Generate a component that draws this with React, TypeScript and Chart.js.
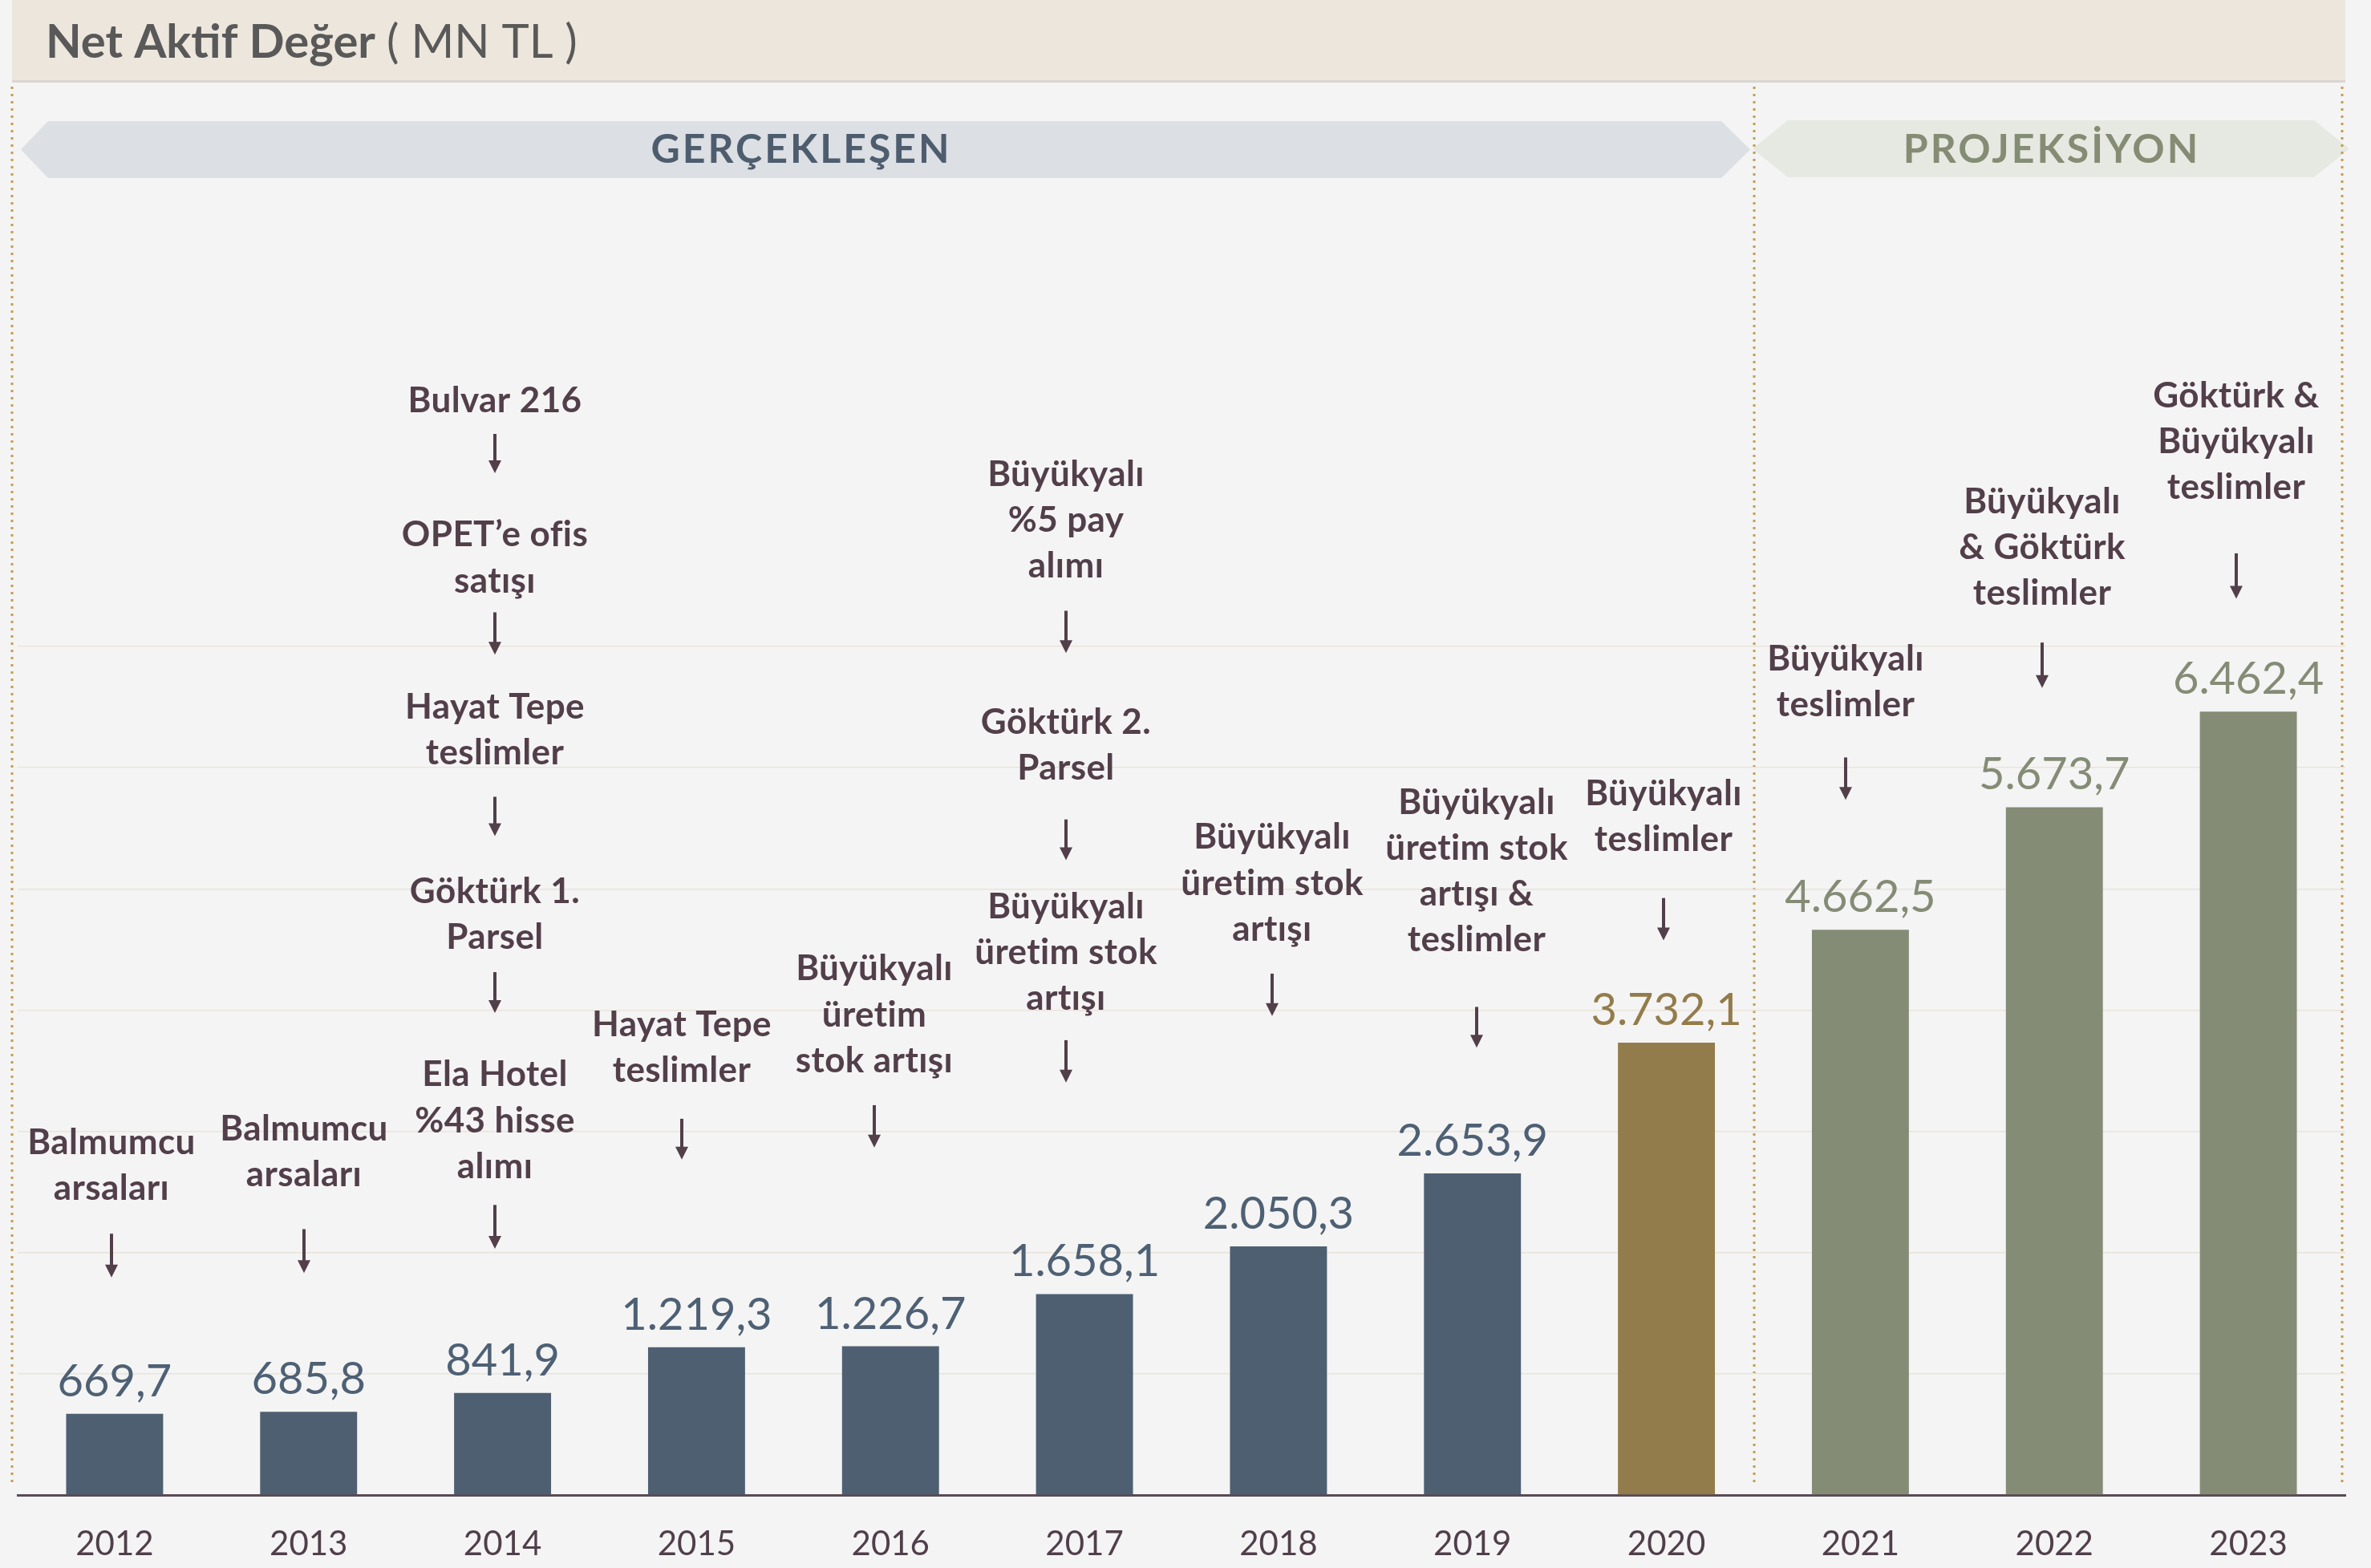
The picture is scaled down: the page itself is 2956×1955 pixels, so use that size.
import React, { useEffect, useRef } from "react";
import { Chart, registerables } from "chart.js";

Chart.register(...registerables);

// ---------------- DATA ----------------
const years = ["2012", "2013", "2014", "2015", "2016", "2017", "2018", "2019", "2020", "2021", "2022", "2023"];
const netAssetValues = [669.7, 685.8, 841.9, 1219.3, 1226.7, 1658.1, 2050.3, 2653.9, 3732.1, 4662.5, 5673.7, 6462.4];
// phase: 0 = realised, 1 = current year, 2 = projection
const phases = [0, 0, 0, 0, 0, 0, 0, 0, 1, 2, 2, 2];
const yTicksMax = 7000;
const yTickStep = 1000;

const titleMain = "Net Aktif Değer";
const titleUnit = "( MN TL )";
const bannerRealised = "GERÇEKLEŞEN";
const bannerProjection = "PROJEKSİYON";

// Milestone notes per year: groups of text lines, each followed by an arrow
const notes: string[][][] = [
  [["Balmumcu", "arsaları"]],
  [["Balmumcu", "arsaları"]],
  [["Bulvar 216"], ["OPET’e ofis", "satışı"], ["Hayat Tepe", "teslimler"], ["Göktürk 1.", "Parsel"], ["Ela Hotel", "%43 hisse", "alımı"]],
  [["Hayat Tepe", "teslimler"]],
  [["Büyükyalı", "üretim", "stok artışı"]],
  [["Büyükyalı", "%5 pay", "alımı"], ["Göktürk 2.", "Parsel"], ["Büyükyalı", "üretim stok", "artışı"]],
  [["Büyükyalı", "üretim stok", "artışı"]],
  [["Büyükyalı", "üretim stok", "artışı &", "teslimler"]],
  [["Büyükyalı", "teslimler"]],
  [["Büyükyalı", "teslimler"]],
  [["Büyükyalı", "& Göktürk", "teslimler"]],
  [["Göktürk &", "Büyükyalı", "teslimler"]],
];

// ---------------- LAYOUT (reference units, scaled by S) ----------------
const S = 1.885;
// per year: dx from bar centre, per group [firstLineCentreY, arrowTop, arrowBottom]
const noteLayout: { dx: number; groups: number[][] }[] = [
  { dx: -2, groups: [[756, 816, 845]] },
  { dx: -3, groups: [[747, 813, 842]] },
  { dx: -5, groups: [[265, 287, 313], [354, 405, 433], [468, 527, 553], [590, 643, 670], [711, 797, 826]] },
  { dx: -10, groups: [[678, 740, 767]] },
  { dx: -11, groups: [[641, 731, 759]] },
  { dx: -12, groups: [[314, 404, 432], [478, 542, 569], [600, 688, 716]] },
  { dx: -4, groups: [[554, 644, 672]] },
  { dx: 3, groups: [[531, 666, 693]] },
  { dx: -2, groups: [[525, 594, 622]] },
  { dx: -10, groups: [[436, 501, 529]] },
  { dx: -8, groups: [[332, 425, 455]] },
  { dx: -8, groups: [[262, 366, 396]] },
];

const FONT = "Lato, 'Open Sans', sans-serif";
const BAR_COLORS = ["#4e5f72", "#937c4b", "#858c76"];
const LABEL_COLORS = ["#4e6074", "#937c4b", "#858c76"];
const NOTE_COLOR = "#523f4a";

function formatTR(v: number): string {
  const fixed = v.toFixed(1);
  const [intPart, dec] = fixed.split(".");
  const withDots = intPart.replace(/\B(?=(\d{3})+(?!\d))/g, ".");
  return withDots + "," + dec;
}

function dottedV(ctx: CanvasRenderingContext2D, x: number, y0: number, y1: number) {
  ctx.save();
  ctx.strokeStyle = "#c49d4f";
  ctx.lineWidth = 3;
  ctx.setLineDash([3, 6]);
  ctx.beginPath();
  ctx.moveTo(x, y0);
  ctx.lineTo(x, y1);
  ctx.stroke();
  ctx.restore();
}

function hexBanner(
  ctx: CanvasRenderingContext2D,
  tipL: number,
  bodyL: number,
  bodyR: number,
  tipR: number,
  top: number,
  bottom: number,
  fill: string
) {
  const mid = (top + bottom) / 2;
  ctx.save();
  ctx.fillStyle = fill;
  ctx.beginPath();
  ctx.moveTo(tipL, mid);
  ctx.lineTo(bodyL, top);
  ctx.lineTo(bodyR, top);
  ctx.lineTo(tipR, mid);
  ctx.lineTo(bodyR, bottom);
  ctx.lineTo(bodyL, bottom);
  ctx.closePath();
  ctx.fill();
  ctx.restore();
}

const backgroundPlugin = {
  id: "bgDecor",
  beforeDraw(chart: any) {
    const ctx: CanvasRenderingContext2D = chart.ctx;
    const W = chart.width;
    const H = chart.height;
    ctx.save();
    ctx.fillStyle = "#f4f4f4";
    ctx.fillRect(0, 0, W, H);
    // title band
    ctx.fillStyle = "#ece6dc";
    ctx.fillRect(15, 0, 2909, 100);
    ctx.fillStyle = "#d9d5d1";
    ctx.fillRect(15, 100, 2909, 3);
    // title text
    ctx.textBaseline = "alphabetic";
    ctx.textAlign = "left";
    ctx.fillStyle = "#595959";
    ctx.font = `bold 58px ${FONT}`;
    ctx.fillText(titleMain, 57, 72);
    const w = ctx.measureText(titleMain + " ").width;
    ctx.font = `58px ${FONT}`;
    ctx.fillText(titleUnit, 57 + w, 72);
    ctx.restore();

    // banners
    hexBanner(ctx, 26, 60, 2146, 2182, 151, 222, "#dcdfe3");
    hexBanner(ctx, 2185, 2229, 2885, 2929, 150, 221, "#e6e9e2");
    ctx.save();
    ctx.textAlign = "center";
    ctx.textBaseline = "middle";
    ctx.font = `bold 50px ${FONT}`;
    (ctx as any).letterSpacing = "3px";
    ctx.fillStyle = "#4e5d6e";
    ctx.fillText(bannerRealised, 999, 187);
    ctx.fillStyle = "#858c74";
    ctx.fillText(bannerProjection, 2558, 187);
    ctx.restore();

    // dotted separators
    dottedV(ctx, 15, 108, 1852);
    dottedV(ctx, 2187, 108, 1852);
    dottedV(ctx, 2920, 108, 1852);
  },
  afterDraw(chart: any) {
    const ctx: CanvasRenderingContext2D = chart.ctx;
    const xs = chart.scales.x;
    const ys = chart.scales.y;
    ctx.save();
    // value labels
    ctx.textAlign = "center";
    ctx.textBaseline = "alphabetic";
    ctx.font = `56px ${FONT}`;
    netAssetValues.forEach((v, i) => {
      const x = xs.getPixelForValue(i);
      const y = ys.getPixelForValue(v);
      ctx.fillStyle = LABEL_COLORS[phases[i]];
      ctx.fillText(formatTR(v), x, y - 22);
    });
    // notes
    ctx.font = `bold 44px ${FONT}`;
    (ctx as any).letterSpacing = "0.4px";
    ctx.textBaseline = "middle";
    ctx.fillStyle = NOTE_COLOR;
    ctx.strokeStyle = NOTE_COLOR;
    notes.forEach((groups, i) => {
      const lay = noteLayout[i];
      const cx = Math.round(xs.getPixelForValue(i) + lay.dx * S);
      groups.forEach((lines, g) => {
        const [y0, a0, a1] = lay.groups[g];
        lines.forEach((ln, k) => {
          ctx.fillText(ln, cx, (y0 + k * 30.3) * S);
        });
        const top = a0 * S;
        const bot = a1 * S;
        ctx.lineWidth = 4;
        ctx.beginPath();
        ctx.moveTo(cx, top);
        ctx.lineTo(cx, bot - 12);
        ctx.stroke();
        ctx.beginPath();
        ctx.moveTo(cx - 8, bot - 16);
        ctx.lineTo(cx + 8, bot - 16);
        ctx.lineTo(cx, bot);
        ctx.closePath();
        ctx.fill();
      });
    });
    ctx.restore();
  },
};

export default function App() {
  const ref = useRef<HTMLCanvasElement>(null);
  useEffect(() => {
    const canvas = ref.current;
    if (!canvas) return;
    Chart.defaults.font.family = FONT;
    const chart = new Chart(canvas, {
      type: "bar",
      data: {
        labels: years,
        datasets: [
          {
            data: netAssetValues,
            backgroundColor: phases.map((p) => BAR_COLORS[p]),
            barPercentage: 0.5,
            categoryPercentage: 1,
          },
        ],
      },
      options: {
        responsive: false,
        animation: false,
        devicePixelRatio: 1,
        layout: { padding: { top: 806, left: 22, right: 32, bottom: 0 } },
        plugins: { legend: { display: false }, tooltip: { enabled: false } },
        scales: {
          x: {
            grid: { display: false, drawTicks: false },
            border: { display: true, color: "#5b4a55", width: 3 },
            ticks: { color: "#503f4a", font: { family: FONT, size: 42 }, padding: 36 },
            afterFit: (s: any) => {
              s.height = 91;
            },
          },
          y: {
            min: 0,
            max: yTicksMax,
            ticks: { display: false, stepSize: yTickStep },
            grid: { color: "#e9e3da", lineWidth: 1.5, drawTicks: false },
            border: { display: false },
            afterFit: (s: any) => {
              s.width = 0;
            },
          },
        },
      } as any,
      plugins: [backgroundPlugin],
    });
    return () => chart.destroy();
  }, []);
  return (
    <div style={{ position: "absolute", left: 0, top: 0, width: 2956, height: 1955 }}>
      <canvas ref={ref} width={2956} height={1955} style={{ display: "block" }} />
    </div>
  );
}
